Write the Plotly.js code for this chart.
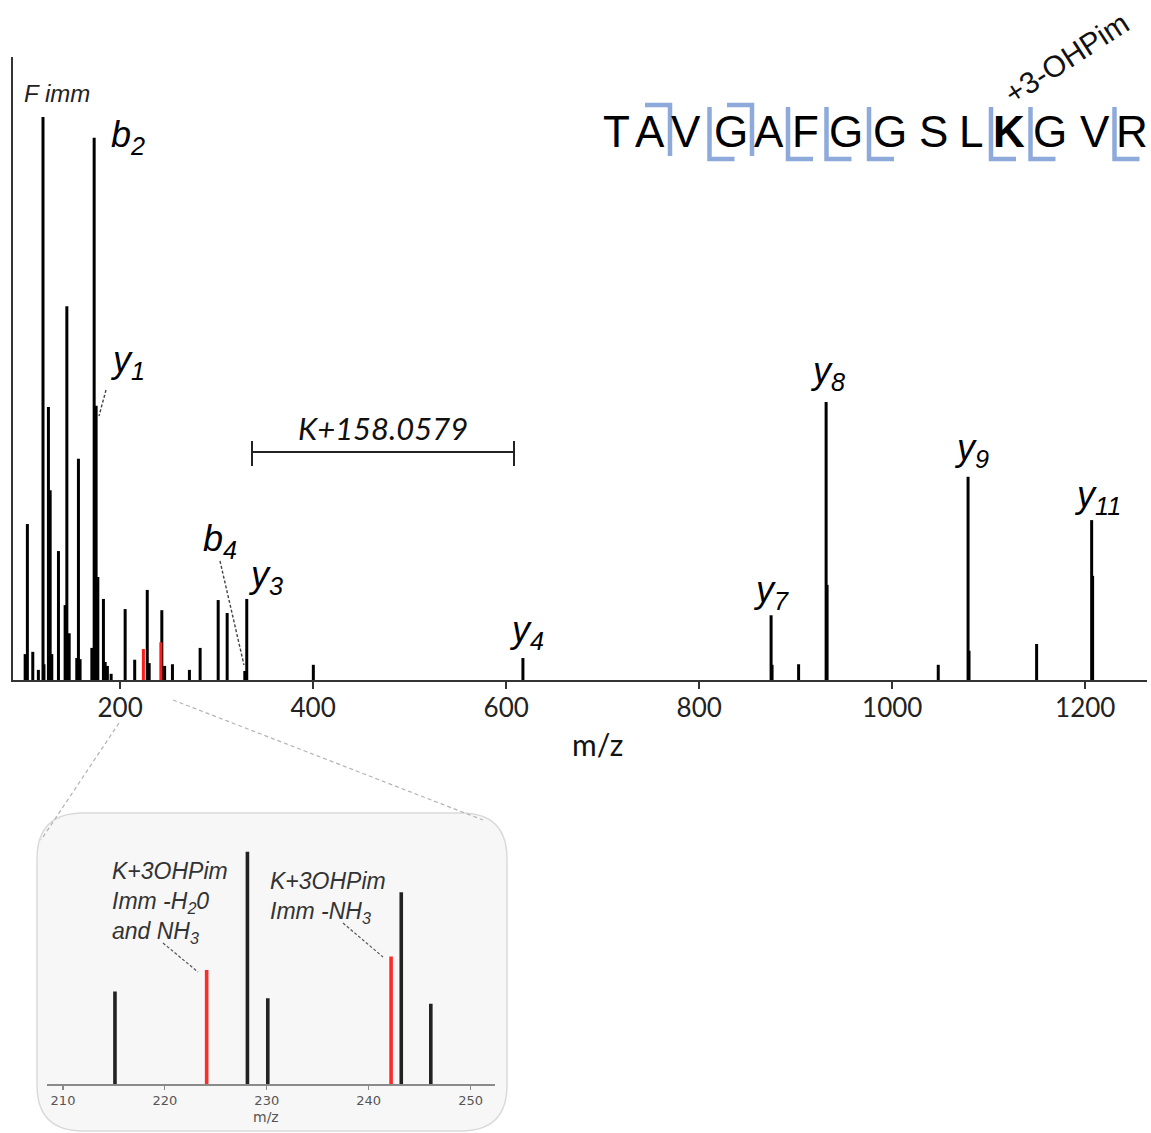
<!DOCTYPE html>
<html>
<head>
<meta charset="utf-8">
<script src="https://cdn.plot.ly/plotly-3.0.1.min.js"></script>
<style>
  html, body { margin: 0; padding: 0; background: #ffffff; }
  #chart { width: 1151px; height: 1133px; }
</style>
</head>
<body>
<div id="chart"></div>
<script>
// ---- MS/MS spectrum of TAVGAFGGSLKGVR (K + 3-OHPim) ----
// peak m/z values and relative intensities (% of the F immonium ion)
const peakMz = [
  101.6, 103.9, 109.5, 115.3, 120.08, 121.08, 125.7, 127.5, 129.2, 136.1,
  143.0, 144.8, 147.2, 155.1, 156.8, 158.5, 170.7, 173.09, 175.12, 176.9,
  182.7, 184.5, 186.8, 190.7, 205.2, 215.1, 228.1, 230.1, 243.2, 246.1,
  254.2, 271.8, 282.9, 301.6, 310.9, 329.18, 331.21, 400.2, 617.36, 874.5,
  875.5, 903.0, 931.52, 932.52, 1047.7, 1078.59, 1079.59, 1149.63, 1206.65, 1207.65
];
const peakIntensity = [
  4.6, 27.7, 5.0, 1.8, 100, 2.8, 48.5, 33.7, 4.6, 22.9,
  13.3, 66.4, 8.3, 3.9, 39.3, 3.7, 5.7, 96.3, 48.7, 18.3,
  14.4, 3.2, 2.5, 1.1, 12.6, 3.6, 16.0, 3.0, 12.4, 2.5,
  2.8, 1.8, 5.7, 14.2, 11.9, 1.6, 14.4, 2.7, 3.9, 11.5,
  2.7, 2.8, 49.4, 16.9, 2.7, 36.1, 5.2, 6.4, 28.4, 18.5
];
// K+3OHPim immonium-related ions (highlighted)
const markerMz = [224.1, 242.2];
const markerIntensity = [5.5, 6.7];

// x-axis ticks
const mainTicks = [200, 400, 600, 800, 1000, 1200];
const insetTicks = [210, 220, 230, 240, 250];

// peptide sequence and observed fragment sites
const residues = ['T','A','V','G','A','F','G','G','S','L','K','G','V','R'];
const modifiedIndex = 10;
const bIons = [2, 4];
const yIons = [11, 9, 8, 7, 4, 3, 1];

// ---- page geometry (pixels) ----
const W = 1151, H = 1133;
const X = p => p / W;
const Y = p => 1 - p / H;

const MAIN = {x0: 13, x1: 1147, y0: 57, y1: 680};
const INSET = {x0: 46.7, x1: 495, y0: 835, y1: 1084};
const mainRange = [89, 1264];
const mainYMax = (MAIN.y1 - MAIN.y0) / 5.63;
const insetRange = [208.4, 252.4];
const insetYMin = -4.62;
const insetYMax = insetYMin + (INSET.y1 - INSET.y0) / 11.26;

function sticks(mz, inten, base, lo, hi) {
  const xs = [], ys = [];
  for (let i = 0; i < mz.length; i++) {
    if (mz[i] < lo || mz[i] > hi) continue;
    xs.push(mz[i], mz[i], null);
    ys.push(base, inten[i], null);
  }
  return {x: xs, y: ys};
}

const mainBlack = sticks(peakMz, peakIntensity, 0, -Infinity, Infinity);
const mainRed = sticks(markerMz, markerIntensity, 0, -Infinity, Infinity);
const insBlack = sticks(peakMz, peakIntensity, insetYMin, insetRange[0], insetRange[1]);
const insRed = sticks(markerMz, markerIntensity, insetYMin, insetRange[0], insetRange[1]);

const traces = [
  {x: mainBlack.x, y: mainBlack.y, xaxis: 'x', yaxis: 'y', mode: 'lines',
   line: {color: '#000000', width: 3}, hoverinfo: 'skip', showlegend: false},
  {x: mainRed.x, y: mainRed.y, xaxis: 'x', yaxis: 'y', mode: 'lines',
   line: {color: '#ff1a1a', width: 3}, hoverinfo: 'skip', showlegend: false},
  {x: insBlack.x, y: insBlack.y, xaxis: 'x2', yaxis: 'y2', mode: 'lines',
   line: {color: '#222222', width: 3.6}, hoverinfo: 'skip', showlegend: false},
  {x: insRed.x, y: insRed.y, xaxis: 'x2', yaxis: 'y2', mode: 'lines',
   line: {color: '#ff2a2a', width: 3.6}, hoverinfo: 'skip', showlegend: false}
];

// ---- shapes ----
const shapes = [];
function seg(x0, y0, x1, y1, color, width, dash) {
  shapes.push({type: 'line', xref: 'paper', yref: 'paper',
    x0: X(x0), y0: Y(y0), x1: X(x1), y1: Y(y1),
    line: {color: color, width: width, dash: dash || 'solid'}});
}
function pathOf(pts) {
  return pts.map(p => p[0] + ' ' + X(p[1]).toFixed(5) + ',' + Y(p[2]).toFixed(5)).join(' ');
}

// rounded panel behind the inset
(function () {
  const x0 = 37, x1 = 507, y0 = 813, y1 = 1131, r = 46;
  const d = [
    ['M', x0 + r, y0], ['L', x1 - r, y0], ['Q', x1, y0], ['', x1, y0 + r],
    ['L', x1, y1 - r], ['Q', x1, y1], ['', x1 - r, y1],
    ['L', x0 + r, y1], ['Q', x0, y1], ['', x0, y1 - r],
    ['L', x0, y0 + r], ['Q', x0, y0], ['', x0 + r, y0]
  ];
  shapes.push({type: 'path', xref: 'paper', yref: 'paper', layer: 'below',
    path: pathOf(d) + ' Z', fillcolor: '#f7f7f7', line: {color: '#dadada', width: 1.5}});
})();

// zoom guides from the main axis to the inset
seg(119, 723, 41, 840, '#b3b3b3', 1.2, '4px,3px');
seg(173, 700, 483, 820, '#b3b3b3', 1.2, '4px,3px');

// mass-shift bracket between y3 and y4
seg(252, 452, 514, 452, '#222222', 2);
seg(252, 441, 252, 466, '#222222', 2);
seg(514, 441, 514, 466, '#222222', 2);

// label leaders
seg(106, 390, 99, 416, '#444444', 1.4, '3px,2px');
seg(220, 561, 244, 665, '#444444', 1.4, '3px,2px');
seg(163, 943, 198, 972, '#555555', 1.2, '3px,2px');
seg(343, 923, 383, 957, '#555555', 1.2, '3px,2px');

// peptide letters and fragment brackets
const letterX = [616, 650, 686, 731, 769, 805, 846, 890, 933, 971, 1009, 1050, 1095, 1132];
const letterY = 132;
const brTop = 105, brBot = 159, brArm = 25, brColor = '#8eaadb';
bIons.forEach(n => {
  const cx = (letterX[n - 1] + letterX[n]) / 2 + 2;
  shapes.push({type: 'path', xref: 'paper', yref: 'paper',
    path: pathOf([['M', cx - brArm, brTop], ['L', cx, brTop], ['L', cx, brBot - 3]]),
    line: {color: brColor, width: 4.5}});
});
yIons.forEach(n => {
  const i = residues.length - n;
  const cx = (letterX[i - 1] + letterX[i]) / 2 + 1;
  shapes.push({type: 'path', xref: 'paper', yref: 'paper',
    path: pathOf([['M', cx, brTop + 2], ['L', cx, brBot], ['L', cx + brArm, brBot]]),
    line: {color: brColor, width: 4.5}});
});

// ---- annotations ----
const annotations = [];
function ann(text, x, y, font, extra) {
  annotations.push(Object.assign({
    text: text, xref: 'paper', yref: 'paper', x: X(x), y: Y(y),
    xanchor: 'center', yanchor: 'middle', showarrow: false, font: font
  }, extra || {}));
}
const ionFont = {family: 'Liberation Sans, Arial, sans-serif', size: 36, color: '#000'};
ann('<i>F imm</i>', 57, 93, {family: 'Liberation Sans, Arial, sans-serif', size: 24, color: '#222'});
const ionLabelPos = {
  b2: [128, 137], y1: [127, 362], b4: [220, 541], y3: [265, 577], y4: [526, 632],
  y7: [771, 592], y8: [827, 373], y9: [971, 450], y11: [1097, 497]
};
Object.keys(ionLabelPos).forEach(k => {
  const p = ionLabelPos[k];
  ann('<i>' + k[0] + '<sub>' + k.slice(1) + '</sub></i>', p[0], p[1], ionFont);
});
ann('<i>K+158.0579</i>', 383, 428, {family: 'Lato, sans-serif', size: 31, color: '#111'});
ann('m/z', 597, 744, {family: 'Lato, sans-serif', size: 30, color: '#111'});

residues.forEach((r, i) => {
  ann(i === modifiedIndex ? '<b>' + r + '</b>' : r, letterX[i], letterY,
      {family: 'Liberation Sans, Arial, sans-serif', size: 44, color: '#000'});
});
ann('+3-OHPim', 1066, 58, {family: 'Liberation Sans, Arial, sans-serif', size: 30, color: '#111'},
    {textangle: -33});

const insetFont = {family: 'Liberation Sans, Arial, sans-serif', size: 23, color: '#333'};
ann('<i>K+3OHPim<br>Imm -H<sub>2</sub>0<br>and NH<sub>3</sub></i>', 110, 856, insetFont,
    {xanchor: 'left', yanchor: 'top', align: 'left'});
ann('<i>K+3OHPim<br>Imm -NH<sub>3</sub></i>', 268, 866, insetFont,
    {xanchor: 'left', yanchor: 'top', align: 'left'});
ann('m/z', 266, 1117, {family: 'DejaVu Sans, sans-serif', size: 14, color: '#555'});

const layout = {
  width: W, height: H,
  margin: {l: 0, r: 0, t: 0, b: 0},
  paper_bgcolor: '#ffffff',
  plot_bgcolor: 'rgba(0,0,0,0)',
  showlegend: false,
  xaxis: {
    domain: [X(MAIN.x0), X(MAIN.x1)], anchor: 'y', range: mainRange,
    tickvals: mainTicks, ticktext: mainTicks.map(String),
    showline: true, linecolor: '#333', linewidth: 1.6, mirror: false,
    ticks: 'outside', ticklen: 7, tickwidth: 1.6, tickcolor: '#333',
    ticklabelstandoff: -3,
    tickfont: {family: 'Lato, sans-serif', size: 26, color: '#222'},
    showgrid: false, zeroline: false, fixedrange: true
  },
  yaxis: {
    domain: [Y(MAIN.y1), Y(MAIN.y0)], anchor: 'x', range: [0, mainYMax],
    showline: true, linecolor: '#333', linewidth: 1.6,
    ticks: '', showticklabels: false, showgrid: false, zeroline: false, fixedrange: true
  },
  xaxis2: {
    domain: [X(INSET.x0), X(INSET.x1)], anchor: 'y2', range: insetRange,
    tickvals: insetTicks, ticktext: insetTicks.map(String),
    showline: true, linecolor: '#8a8a8a', linewidth: 1.5,
    ticks: 'outside', ticklen: 4, tickwidth: 1.2, tickcolor: '#8a8a8a',
    tickfont: {family: 'DejaVu Sans, sans-serif', size: 13, color: '#555'},
    showgrid: false, zeroline: false, fixedrange: true
  },
  yaxis2: {
    domain: [Y(INSET.y1), Y(INSET.y0)], anchor: 'x2', range: [insetYMin, insetYMax],
    visible: false, showgrid: false, zeroline: false, fixedrange: true
  },
  shapes: shapes,
  annotations: annotations
};

Plotly.newPlot('chart', traces, layout, {staticPlot: true, displayModeBar: false});
</script>
</body>
</html>
